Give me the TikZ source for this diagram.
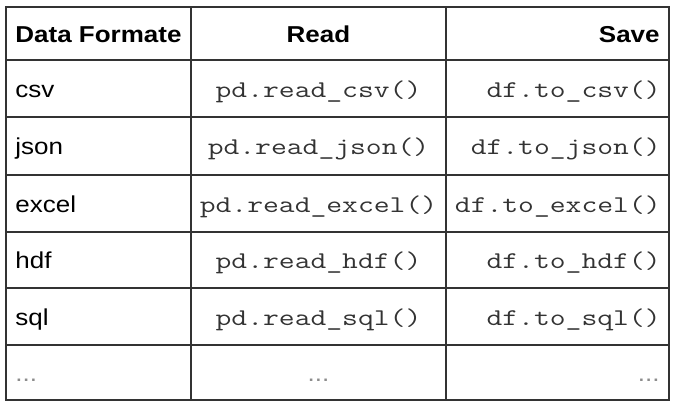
\documentclass[tikz,border=0pt]{standalone}
\usepackage{fontspec}
\setmainfont[FakeStretch=1.13]{Liberation Sans}
\setmonofont[FakeStretch=1.28]{Latin Modern Mono}
\usetikzlibrary{positioning}
\tikzstyle{hd}=[font=\bfseries\fontsize{11.5}{13}\selectfont,inner sep=0pt]
\tikzstyle{fmt}=[font=\fontsize{11.5}{13}\selectfont,inner sep=0pt,anchor=base west]
\tikzstyle{fn}=[font=\ttfamily\fontsize{12}{13}\selectfont,text=black!80,inner sep=0pt]
\tikzstyle{more}=[font=\fontsize{11.5}{13}\selectfont,text=black!45,inner sep=0pt]
\tikzstyle{rule}=[draw=black!80,line width=0.7pt]

\begin{document}
\begin{tikzpicture}[x=0.5pt,y=-0.5pt]
\useasboundingbox[fill=white] (0,0) rectangle (678,407);
% grid
\draw[rule] (6,7) rectangle (669,400);
\draw[rule] (191,7) -- (191,400); \draw[rule] (446,7) -- (446,400);
\draw[rule] (6,60) -- (669,60); \draw[rule] (6,117) -- (669,117); \draw[rule] (6,175) -- (669,175);
\draw[rule] (6,232) -- (669,232); \draw[rule] (6,288) -- (669,288); \draw[rule] (6,345) -- (669,345);
% header
\node[hd,anchor=base west] (hfmt) at (15,42) {Data Formate};
\node[hd,anchor=base] (hread) at (318.5,42) {Read};
\node[hd,anchor=base east] (hsave) at (660,42) {Save};
% formats
\node[fmt] (fcsv) at (15,97) {csv};
\node[fmt] (fjson) at (15,154) {json};
\node[fmt] (fexcel) at (15,212) {excel};
\node[fmt] (fhdf) at (15,268) {hdf};
\node[fmt] (fsql) at (15,325) {sql};
\node[more,anchor=base west] (fmore) at (15,381) {...};
% read
\node[fn,anchor=base] (rcsv) at (318.5,97) {pd.read\_csv()};
\node[fn,anchor=base] (rjson) at (318.5,154) {pd.read\_json()};
\node[fn,anchor=base] (rexcel) at (318.5,212) {pd.read\_excel()};
\node[fn,anchor=base] (rhdf) at (318.5,268) {pd.read\_hdf()};
\node[fn,anchor=base] (rsql) at (318.5,325) {pd.read\_sql()};
\node[more,anchor=base] (rmore) at (318.5,381) {...};
% save
\node[fn,anchor=base east] (scsv) at (661,97) {df.to\_csv()};
\node[fn,anchor=base east] (sjson) at (661,154) {df.to\_json()};
\node[fn,anchor=base east] (sexcel) at (661,212) {df.to\_excel()};
\node[fn,anchor=base east] (shdf) at (661,268) {df.to\_hdf()};
\node[fn,anchor=base east] (ssql) at (661,325) {df.to\_sql()};
\node[more,anchor=base east] (smore) at (660,381) {...};
\end{tikzpicture}
\end{document}
